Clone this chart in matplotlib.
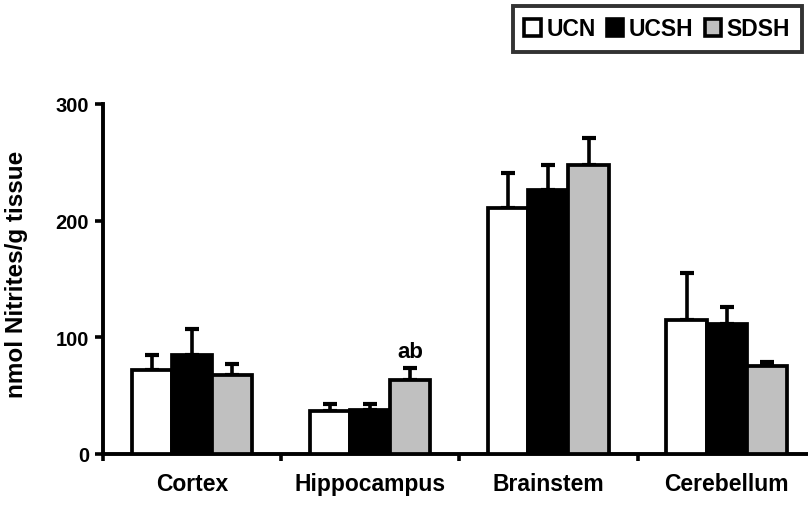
import numpy as np
import matplotlib
matplotlib.use("Agg")
import matplotlib.pyplot as plt
from matplotlib.patches import Patch

plt.rcParams['font.family'] = ['Liberation Sans', 'DejaVu Sans']
plt.rcParams['font.weight'] = 'bold'

regions = ['Cortex', 'Hippocampus', 'Brainstem', 'Cerebellum']
groups = ['UCN', 'UCSH', 'SDSH']
means = {
    'UCN': [72, 37, 211, 115],
    'UCSH': [85, 38, 226, 111],
    'SDSH': [68, 63, 248, 75],
}
errs = {
    'UCN': [13, 6, 30, 40],
    'UCSH': [22, 5, 22, 15],
    'SDSH': [9, 11, 23, 4],
}
colors = {'UCN': 'white', 'UCSH': 'black', 'SDSH': '#c0c0c0'}

fig = plt.figure(figsize=(8.08, 5.06), dpi=100)
ax = fig.add_axes([0.1275, 0.1008, 0.882, 0.6917])

x = np.arange(len(regions))
w = 0.225
offs = [-w, 0, w]
for g, o in zip(groups, offs):
    ax.bar(x + o, means[g], w, color=colors[g], edgecolor='black', linewidth=2.7, zorder=3)
    ax.errorbar(x + o, means[g], yerr=[np.zeros(4), errs[g]], fmt='none',
                ecolor='black', elinewidth=2.6, capsize=5, capthick=3, zorder=2)

ax.text(1 + w, 79, 'ab', ha='center', va='bottom', fontsize=16, fontweight='bold')

ax.set_xlim(-0.5, 3.5)
ax.set_ylim(0, 300)
ax.set_yticks([0, 100, 200, 300])
ax.set_xticks(np.arange(-0.5, 4.0, 1.0))
ax.set_xticklabels([])
ax.set_xticks(x, minor=True)
ax.set_xticklabels(regions, minor=True)
ax.tick_params(axis='x', which='minor', length=0, pad=13, labelsize=16.5)
ax.tick_params(axis='x', which='major', direction='out', length=5, width=2.6)
ax.tick_params(axis='y', direction='out', length=6, width=2.6, labelsize=14.5, pad=4)
for lab in ax.get_yticklabels() + ax.get_xticklabels(minor=True):
    lab.set_fontweight('bold')
for s in ['top', 'right']:
    ax.spines[s].set_visible(False)
for s in ['left', 'bottom']:
    ax.spines[s].set_linewidth(2.8)
ax.set_ylabel('nmol Nitrites/g tissue', fontsize=17.5, fontweight='bold', labelpad=10)
ax.yaxis.set_label_coords(-0.105, 0.515)

handles = [Patch(facecolor=colors[g], edgecolor='black', linewidth=2.6) for g in groups]
leg = fig.legend(handles, groups, loc='upper left', bbox_to_anchor=(513 / 808, 1 - 7 / 506),
                 ncol=3, frameon=True, fancybox=False, handlelength=0.7, handleheight=0.75,
                 handletextpad=0.25, columnspacing=0.5, borderpad=0.5, borderaxespad=0,
                 prop={'weight': 'bold', 'size': 16.5})
leg.get_frame().set_edgecolor('black')
leg.get_frame().set_linewidth(2.8)

fig.savefig('out.png', dpi=100)
